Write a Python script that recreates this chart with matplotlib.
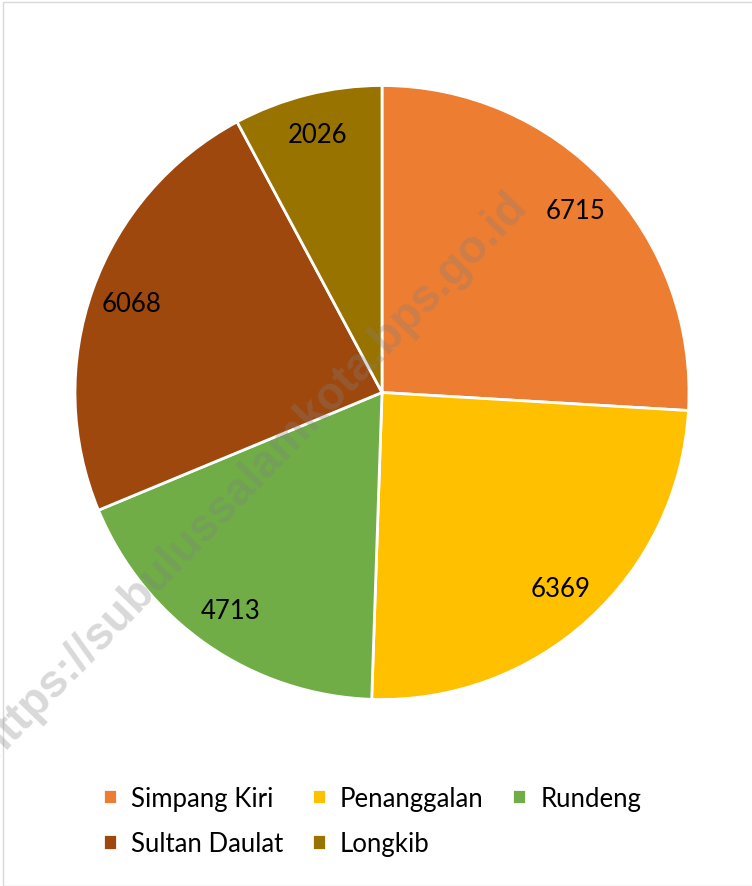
import matplotlib.pyplot as plt
from matplotlib.patches import Rectangle

regions = ['Simpang Kiri', 'Penanggalan', 'Rundeng', 'Sultan Daulat', 'Longkib']
values = [6715, 6369, 4713, 6068, 2026]
colors = ['#ED7D31', '#FFC000', '#70AD47', '#9E480E', '#997300']

plt.rcParams['font.family'] = ['Lato', 'DejaVu Sans']

fig = plt.figure(figsize=(7.52, 8.87), dpi=100)
W, H = 752, 887

# pie centre (382, 393.5) px, radius 307 px
cx, cy, r = 382, 393.5, 307
ax = fig.add_axes([(cx - r) / W, (H - cy - r) / H, 2 * r / W, 2 * r / H])

it = iter(values)
wedges, texts, autotexts = ax.pie(
    values, colors=colors, startangle=90, counterclock=False, radius=1,
    autopct=lambda p: f"{next(it)}", pctdistance=0.865,
    wedgeprops=dict(edgecolor='white', linewidth=2, clip_on=False),
    textprops=dict(fontsize=18.5, color='black'))
ax.set_xlim(-1, 1)
ax.set_ylim(-1, 1)
ax.set_aspect('equal')
ax.axis('off')

# legend in row order like the original
order = [0, 3, 1, 4, 2]
fig.legend([wedges[i] for i in order], [regions[i] for i in order],
           ncol=3, loc='center', bbox_to_anchor=(372 / W, (H - 822) / H),
           frameon=False, fontsize=18.5, handlelength=0.55, handleheight=0.55,
           handletextpad=0.55, columnspacing=1.1, labelspacing=0.8)

# chart frame
fig.patches.append(Rectangle((3 / W, 0), 1, (H - 2.5) / H, transform=fig.transFigure,
                             fill=False, edgecolor='#D9D9D9', linewidth=1))

# watermark (cut at the left edge, as in the original)
fig.text(252 / W, (H - 476) / H, 'https://subulussalamkota.bps.go.id',
         rotation=46, ha='center', va='center', fontsize=33, fontweight='bold',
         family='Liberation Sans', color='#808080', alpha=0.3, zorder=10)

fig.savefig('out.png', dpi=100)
plt.close()
